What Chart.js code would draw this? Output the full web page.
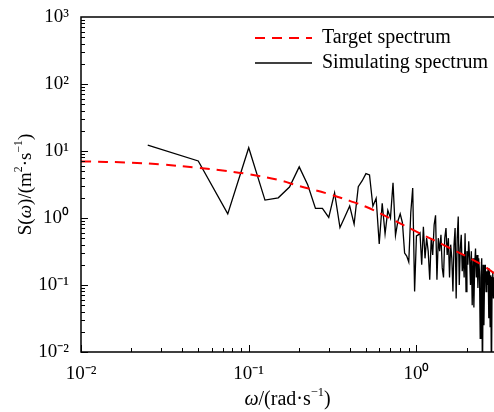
<!DOCTYPE html>
<html>
<head>
<meta charset="utf-8">
<script src="https://cdn.jsdelivr.net/npm/chart.js@4.4.1/dist/chart.umd.min.js"></script>
<style>
  html, body { margin: 0; padding: 0; background: #fff; }
</style>
</head>
<body>
<canvas id="chart" width="494" height="412"></canvas>
<script>
// simulated spectrum, omega step 0.025 rad/s
const omega = [
  0.025, 0.05, 0.075, 0.1, 0.125, 0.15, 0.175, 0.2, 0.225, 0.25,
  0.275, 0.3, 0.325, 0.35, 0.375, 0.4, 0.425, 0.45, 0.475, 0.5,
  0.525, 0.55, 0.575, 0.6, 0.625, 0.65, 0.675, 0.7, 0.725, 0.75,
  0.775, 0.8, 0.825, 0.85, 0.875, 0.9, 0.925, 0.95, 0.975, 1.0,
  1.025, 1.05, 1.075, 1.1, 1.125, 1.15, 1.175, 1.2, 1.225, 1.25,
  1.275, 1.3, 1.325, 1.35, 1.375, 1.4, 1.425, 1.45, 1.475, 1.5,
  1.525, 1.55, 1.575, 1.6, 1.625, 1.65, 1.675, 1.7, 1.725, 1.75,
  1.775, 1.8, 1.825, 1.85, 1.875, 1.9, 1.925, 1.95, 1.975, 2.0,
  2.025, 2.05, 2.075, 2.1, 2.125, 2.15, 2.175, 2.2, 2.225, 2.25,
  2.275, 2.3, 2.325, 2.35, 2.375, 2.4, 2.425, 2.45, 2.475, 2.5,
  2.525, 2.55, 2.575, 2.6, 2.625, 2.65, 2.675, 2.7, 2.725, 2.75,
  2.775, 2.8, 2.825, 2.85, 2.875, 2.9
];
const simS = [
  12.2, 7.1, 1.15, 11.2, 1.85, 2.0, 2.9, 5.8, 3.1, 1.39,
  1.39, 1.02, 2.38, 0.72, 1.05, 1.51, 0.81, 2.93, 3.6, 4.6,
  4.4, 1.5, 1.97, 0.41, 1.66, 0.58, 1.3, 1.0, 3.36, 0.55,
  0.9, 1.15, 0.85, 0.3, 0.27, 0.22, 1.2, 2.8, 0.08, 0.54,
  0.56, 0.6, 0.2, 0.74, 0.25, 0.5, 0.32, 0.12, 0.5, 0.28,
  0.79, 1.1, 0.12, 0.5, 0.32, 0.56, 0.18, 0.13, 0.5, 0.71,
  0.28, 0.5, 0.13, 0.4, 0.25, 0.08, 0.4, 0.71, 0.063, 0.5,
  1.05, 0.1, 0.35, 0.56, 0.16, 0.28, 0.13, 0.59, 0.08, 0.32,
  0.2, 0.45, 0.25, 0.1, 0.32, 0.05, 0.25, 0.046, 0.2, 0.35,
  0.13, 0.28, 0.09, 0.25, 0.16, 0.016, 0.13, 0.25, 0.003, 0.2,
  0.025, 0.16, 0.2, 0.08, 0.16, 0.1, 0.18, 0.032, 0.16, 0.024,
  0.14, 0.003, 0.13, 0.16, 0.063, 0.13
];

// target spectrum
const targetOmega = [0.01, 0.02, 0.03, 0.05, 0.07, 0.1, 0.15, 0.2, 0.3, 0.4, 0.5, 0.7, 1.0, 1.5, 2.0, 2.5, 2.9];
const targetS = [7.0, 6.7, 6.3, 5.6, 5.1, 4.5, 3.7, 3.0, 2.28, 1.8, 1.47, 0.98, 0.625, 0.38, 0.265, 0.195, 0.15];

// decade ticks
const xTicks = [0.01, 0.1, 1];
const xTickLabels = ['10⁻²', '10⁻¹', '10⁰'];
const yTicks = [0.01, 0.1, 1, 10, 100, 1000];
const yTickLabels = ['10⁻²', '10⁻¹', '10⁰', '10¹', '10²', '10³'];

const FONT = '"Liberation Serif", "Times New Roman", serif';

function pairs(xs, ys) {
  return xs.map((v, i) => ({ x: v, y: ys[i] }));
}

// draws a list of text runs (normal / italic / superscript) centred on 0,0
function drawRuns(ctx, runs, size) {
  const fontOf = r => (r.it ? 'italic ' : '') + (r.sup ? size * 0.62 : size) + 'px ' + FONT;
  let w = 0;
  runs.forEach(r => { ctx.font = fontOf(r); w += ctx.measureText(r.t).width; });
  let x = -w / 2;
  ctx.textBaseline = 'middle';
  ctx.textAlign = 'left';
  runs.forEach(r => {
    ctx.font = fontOf(r);
    ctx.fillText(r.t, x, r.sup ? -size * 0.36 : 0);
    x += ctx.measureText(r.t).width;
  });
}

const framePlugin = {
  id: 'frame',
  afterDatasetsDraw(chart) {
    const { ctx, chartArea: a, scales: { x, y } } = chart;
    ctx.save();
    ctx.strokeStyle = '#000';
    ctx.lineWidth = 1.5;
    ctx.beginPath();
    ctx.moveTo(a.right, a.top);
    ctx.lineTo(a.left, a.top);
    ctx.lineTo(a.left, a.bottom);
    ctx.lineTo(a.right, a.bottom);
    ctx.stroke();

    // inward tick marks
    ctx.lineWidth = 1;
    ctx.beginPath();
    for (let d = 0.01; d < 10; d *= 10) {
      for (let m = 1; m <= 9; m++) {
        const v = d * m;
        if (v < x.min * 0.999 || v > x.max) continue;
        const px = Math.round(x.getPixelForValue(v)) + 0.5;
        const len = m === 1 ? 7 : 4;
        ctx.moveTo(px, a.bottom);
        ctx.lineTo(px, a.bottom - len);
      }
    }
    for (let d = 0.01; d < 1000; d *= 10) {
      for (let m = 1; m <= 9; m++) {
        const v = d * m;
        if (v > y.max) continue;
        const py = Math.round(y.getPixelForValue(v)) + 0.5;
        const len = m === 1 ? 7 : 4;
        ctx.moveTo(a.left, py);
        ctx.lineTo(a.left + len, py);
      }
    }
    ctx.stroke();
    ctx.restore();
  },
  afterDraw(chart) {
    const { ctx, chartArea: a } = chart;
    ctx.save();
    ctx.fillStyle = '#000';

    // axis titles
    ctx.save();
    ctx.translate((a.left + a.right) / 2, 400);
    drawRuns(ctx, [
      { t: 'ω', it: true }, { t: '/(rad·s' }, { t: '−1', sup: true }, { t: ')' }
    ], 20);
    ctx.restore();

    ctx.save();
    ctx.translate(26, (a.top + a.bottom) / 2);
    ctx.rotate(-Math.PI / 2);
    drawRuns(ctx, [
      { t: 'S(' }, { t: 'ω', it: true }, { t: ')/(m' }, { t: '2', sup: true },
      { t: '·s' }, { t: '−1', sup: true }, { t: ')' }
    ], 19);
    ctx.restore();

    // legend
    const rows = [38, 63];
    chart.data.datasets.forEach((ds, i) => {
      const yy = rows[i];
      ctx.save();
      ctx.strokeStyle = ds.borderColor;
      ctx.lineWidth = ds.borderWidth;
      ctx.setLineDash(ds.borderDash || []);
      ctx.beginPath();
      ctx.moveTo(255, yy);
      ctx.lineTo(312, yy);
      ctx.stroke();
      ctx.restore();
      ctx.font = '20px ' + FONT;
      ctx.textAlign = 'left';
      ctx.textBaseline = 'middle';
      ctx.fillText(ds.label, 322, yy);
    });
    ctx.restore();
  }
};

new Chart(document.getElementById('chart'), {
  type: 'line',
  data: {
    datasets: [
      {
        label: 'Target spectrum',
        data: pairs(targetOmega, targetS),
        borderColor: '#ff0000',
        borderWidth: 2,
        borderDash: [10, 7],
        pointRadius: 0,
        tension: 0.4
      },
      {
        label: 'Simulating spectrum',
        data: pairs(omega, simS),
        borderColor: '#000000',
        borderWidth: 1.3,
        pointRadius: 0,
        tension: 0
      }
    ]
  },
  options: {
    responsive: false,
    animation: false,
    layout: { padding: { top: 17, right: 0, left: 0, bottom: 0 } },
    plugins: { legend: { display: false }, tooltip: { enabled: false } },
    scales: {
      x: {
        type: 'logarithmic',
        min: 0.01,
        max: 2.9,
        grid: { display: false },
        border: { display: false },
        afterBuildTicks: s => { s.ticks = xTicks.map(v => ({ value: v })); },
        afterFit: s => { s.height = 60; },
        ticks: {
          autoSkip: false,
          maxRotation: 0,
          padding: 3,
          color: '#000',
          font: { family: FONT, size: 19 },
          callback: v => xTickLabels[xTicks.indexOf(v)]
        }
      },
      y: {
        type: 'logarithmic',
        min: 0.01,
        max: 1000,
        grid: { display: false },
        border: { display: false },
        afterBuildTicks: s => { s.ticks = yTicks.map(v => ({ value: v })); },
        afterFit: s => { s.width = 81; },
        ticks: {
          autoSkip: false,
          padding: 4,
          color: '#000',
          font: { family: FONT, size: 19 },
          callback: v => yTickLabels[yTicks.indexOf(v)]
        }
      }
    }
  },
  plugins: [framePlugin]
});
</script>
</body>
</html>
